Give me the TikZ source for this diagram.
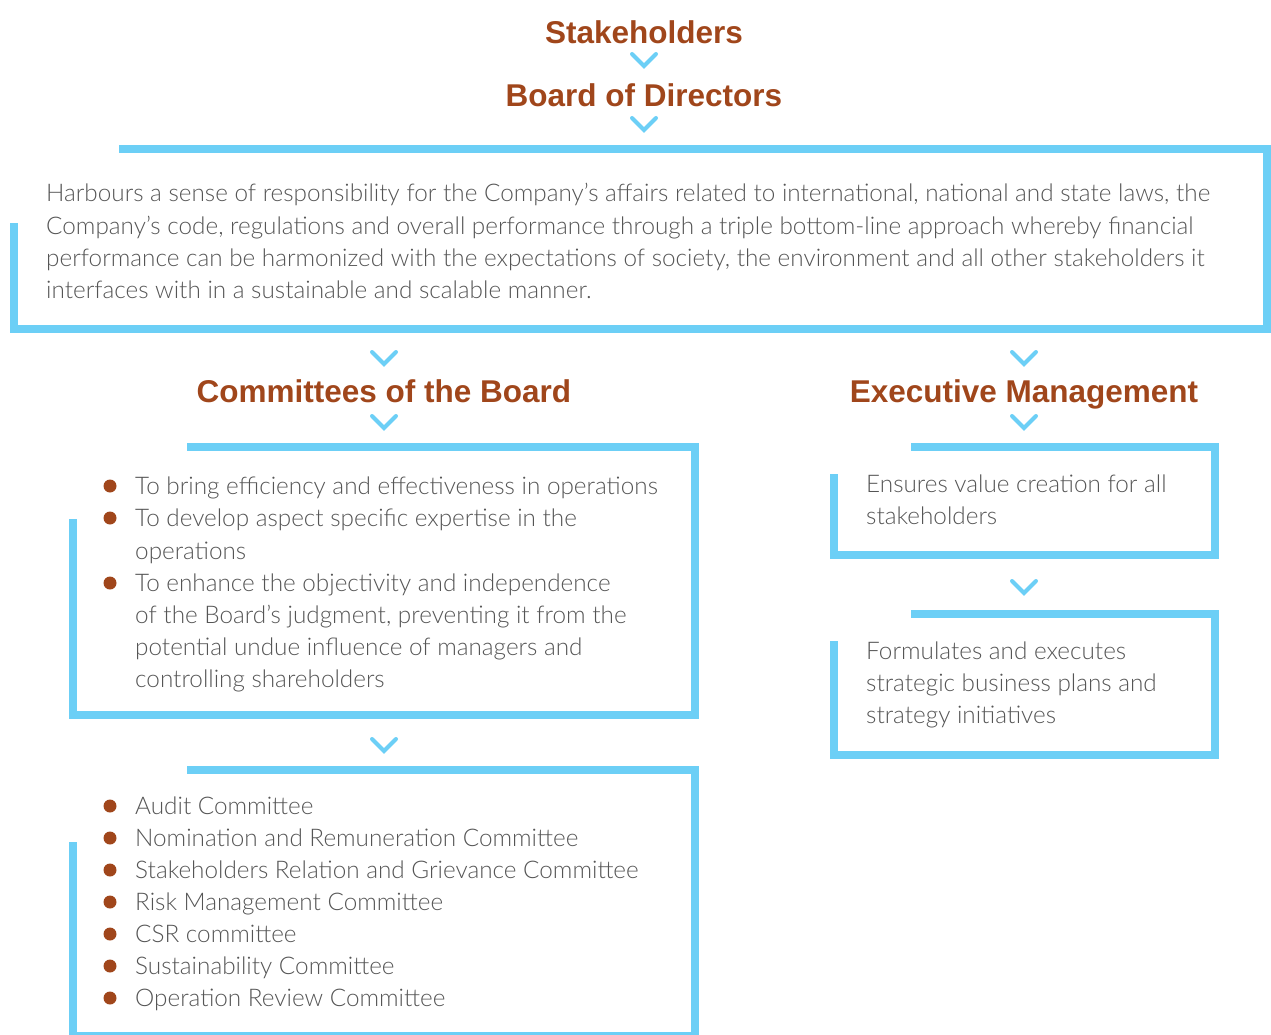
\documentclass[tikz,border=0pt]{standalone}
\usepackage{fontspec}
\setmainfont{Lato}[UprightFont={* Light},BoldFont={* Bold}]
\newfontfamily\titlefont{Liberation Sans}[UprightFont={* Bold}]
\definecolor{lineblue}{HTML}{6CCFF6}
\definecolor{titlebrown}{HTML}{A0461B}
\definecolor{txtgray}{HTML}{555555}
\tikzset{
  boxline/.style={draw=lineblue,line width=7.5pt,line join=miter,line cap=butt},
  chevline/.style={draw=lineblue,line width=4pt,line join=miter,line cap=round},
  chevpic/.pic={\draw[chevline] (-12,-6) -- (0,6) -- (12,-6);},
  title/.style={anchor=base,inner sep=0pt,text=titlebrown,font=\fontsize{31.5}{34}\titlefont},
  body/.style={anchor=base west,inner sep=0pt,text=txtgray,font=\fontsize{24.3}{32}\selectfont},
  bul/.style={fill=titlebrown}
}
\begin{document}
\begin{tikzpicture}[x=1pt,y=-1pt]
\useasboundingbox (0,0) rectangle (1271,1035);
\clip (0,0) rectangle (1271,1035);
% titles
\node[title] (stake) at (644,43.5) {Stakeholders};
\pic at (644,60) {chevpic};
\node[title] (board) at (644,107) {Board of Directors};
\pic at (644,124) {chevpic};
% big box
\draw[boxline] (119,149) -- (1267,149) -- (1267,329) -- (14,329) -- (14,223);
\node[body] (h1) at (46,202) {Harbours a sense of responsibility for the Company’s affairs related to international, national and state laws, the};
\node[body] (h2) at (46,234) {Company’s code, regulations and overall performance through a triple bottom-line approach whereby financial};
\node[body] (h3) at (46,266) {performance can be harmonized with the expectations of society, the environment and all other stakeholders it};
\node[body] (h4) at (46,298) {interfaces with in a sustainable and scalable manner.};
% chevrons below box
\pic at (384,358) {chevpic};
\pic at (1024,358) {chevpic};
\node[title] (comm) at (384,402) {Committees of the Board};
\node[title] (exec) at (1024,402) {Executive Management};
\pic at (384,422) {chevpic};
\pic at (1024,422) {chevpic};
% left box 1
\draw[boxline] (187,447) -- (695,447) -- (695,715) -- (73,715) -- (73,519);
\node[body] (a1) at (135,494) {To bring efficiency and effectiveness in operations};
\node[body] (a2) at (135,526) {To develop aspect specific expertise in the};
\node[body] (a2b) at (135,559) {operations};
\node[body] (a3) at (135,591) {To enhance the objectivity and independence};
\node[body] (a3b) at (135,623) {of the Board’s judgment, preventing it from the};
\node[body] (a3c) at (135,655) {potential undue influence of managers and};
\node[body] (a3d) at (135,687) {controlling shareholders};
\foreach \yy in {486,518,583} \fill[bul] (110,\yy) circle (6.5pt);
\pic at (384,745) {chevpic};
% left box 2
\draw[boxline] (187,770) -- (695,770) -- (695,1036) -- (73,1036) -- (73,842);
\node[body] (b1) at (135,814) {Audit Committee};
\node[body] (b2) at (135,846) {Nomination and Remuneration Committee};
\node[body] (b3) at (135,878) {Stakeholders Relation and Grievance Committee};
\node[body] (b4) at (135,910) {Risk Management Committee};
\node[body] (b5) at (135,942) {CSR committee};
\node[body] (b6) at (135,974) {Sustainability Committee};
\node[body] (b7) at (135,1006) {Operation Review Committee};
\foreach \yy in {806,838,870,902,934,966,998} \fill[bul] (110,\yy) circle (6.5pt);
% right box 1
\draw[boxline] (911,447) -- (1215,447) -- (1215,555) -- (834,555) -- (834,474);
\node[body] (e1) at (866,492) {Ensures value creation for all};
\node[body] (e1b) at (866,524) {stakeholders};
\pic at (1024,587) {chevpic};
% right box 2
\draw[boxline] (911,614) -- (1215,614) -- (1215,755) -- (834,755) -- (834,641);
\node[body] (f1) at (866,659) {Formulates and executes};
\node[body] (f2) at (866,691) {strategic business plans and};
\node[body] (f3) at (866,723) {strategy initiatives};
\end{tikzpicture}
\end{document}
